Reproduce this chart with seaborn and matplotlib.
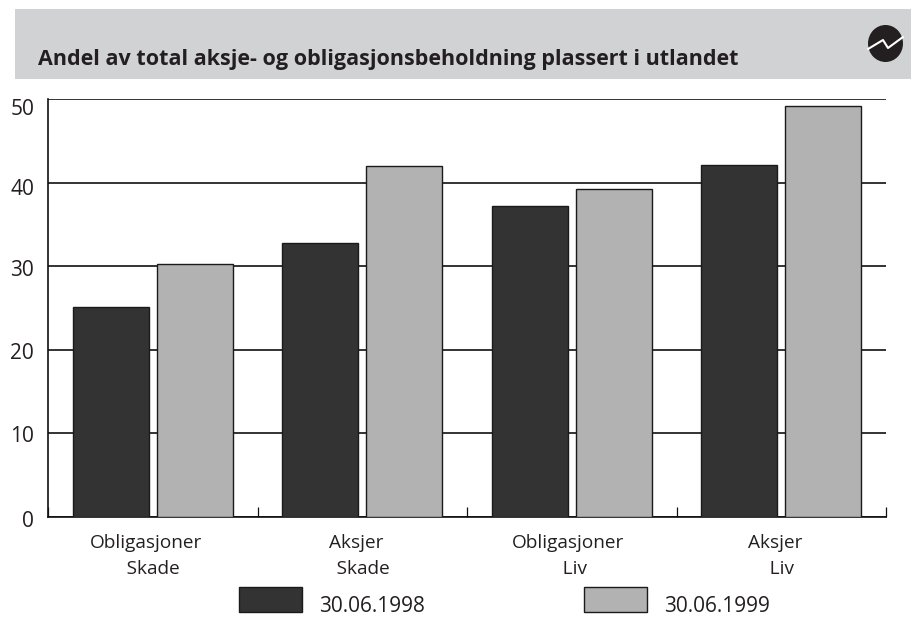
"""Andel av total aksje- og obligasjonsbeholdning plassert i utlandet."""

import matplotlib
matplotlib.use("Agg")
import matplotlib.pyplot as plt
import matplotlib.transforms as mtrans
from matplotlib.legend_handler import HandlerPatch
from matplotlib.patches import Ellipse, Rectangle
import pandas as pd
import seaborn as sns

CATEGORIES = ["Obligasjoner\n   Skade", "Aksjer\n   Skade", "Obligasjoner\n   Liv", "Aksjer\n   Liv"]
SERIES_NAMES = ["30.06.1998", "30.06.1999"]
VALUES_1998 = [25.1, 32.8, 37.2, 42.1]
VALUES_1999 = [30.3, 42.0, 39.2, 49.2]
Y_TICKS = [0, 10, 20, 30, 40, 50]
TITLE = "Andel av total aksje- og obligasjonsbeholdning plassert i utlandet"

COLORS = ["#333333", "#b2b2b2"]
BAND = "#d1d2d4"
W, H = 912, 622
X_SHIFT = [-6.5, -6, -4, -6.5]  # px, labels sit a bit off the group centres
Y_SHIFT = [-2, -1, -1, -2, -4, -8]


def swatch(legend, orig_handle, xdescent, ydescent, width, height, fontsize):
    # swatch stands on the text baseline, as in the original
    return Rectangle((-xdescent, 0), width, 18)


def main():
    sns.set_theme(style="white")
    plt.rcParams["font.family"] = ["Open Sans", "DejaVu Sans"]

    df = pd.DataFrame({
        "kategori": CATEGORIES * 2,
        "dato": [SERIES_NAMES[0]] * 4 + [SERIES_NAMES[1]] * 4,
        "andel": VALUES_1998 + VALUES_1999,
    })

    fig = plt.figure(figsize=(W / 100, H / 100), dpi=100, facecolor="white")

    # header band and logo, in pixel coordinates
    bg = fig.add_axes([0, 0, 1, 1], zorder=0)
    bg.set_xlim(0, W)
    bg.set_ylim(H, 0)
    bg.axis("off")
    bg.add_patch(Rectangle((15, 9), W - 15, 70, color=BAND, lw=0))
    bg.add_patch(Ellipse((885.5, 43.5), 35, 37, color="#231f20", lw=0))
    bg.plot([868, 883, 888, 903], [49, 40, 48, 37], color="white", lw=1.5)
    bg.text(38, 59, TITLE, fontsize=15.5, fontweight="bold", color="#231f20",
            va="center", ha="left")

    ax = fig.add_axes([48 / W, (H - 517) / H, 838 / W, 418 / H], zorder=1)
    ax.patch.set_alpha(0)
    sns.barplot(data=df, x="kategori", y="andel", hue="dato", palette=COLORS,
                saturation=1, width=0.8, gap=0.09, edgecolor="#1a1a1a",
                linewidth=1.0, ax=ax, zorder=3, legend=False)

    ax.set_xlim(-0.5, 3.5)
    ax.set_ylim(0, 50)
    ax.set_xlabel("")
    ax.set_ylabel("")
    ax.set_yticks(Y_TICKS)
    ax.grid(axis="y", color="#111111", lw=1.2, zorder=1)
    ax.set_axisbelow(True)
    for side in ["top", "right"]:
        ax.spines[side].set_visible(False)
    for side in ["left", "bottom"]:
        ax.spines[side].set_color("#111111")
        ax.spines[side].set_linewidth(1.2)

    ax.set_xticks([-0.5, 0.5, 1.5, 2.5, 3.5], minor=True)
    ax.tick_params(axis="x", which="minor", direction="in", length=7.5, width=0.9,
                   color="#111111", bottom=True)
    ax.tick_params(axis="x", which="major", length=0, pad=12, labelsize=13.7,
                   labelcolor="#231f20")
    ax.tick_params(axis="y", length=0, pad=10, labelsize=15, labelcolor="#231f20")

    for label, dx in zip(ax.get_xticklabels(), X_SHIFT):
        label.set_linespacing(1.6)
        label.set_transform(label.get_transform() + mtrans.ScaledTranslation(dx / 100, 0, fig.dpi_scale_trans))
    for label, dy in zip(ax.get_yticklabels(), Y_SHIFT):
        label.set_transform(label.get_transform() + mtrans.ScaledTranslation(0, dy / 100, fig.dpi_scale_trans))

    handles = [Rectangle((0, 0), 1, 1, fc=c, ec="#1a1a1a", lw=1.0) for c in COLORS]
    fig.legend(handles, SERIES_NAMES, loc="upper left", bbox_to_anchor=(239 / W, 1 - 594 / H),
               bbox_transform=fig.transFigure, ncol=2, frameon=False, fontsize=15,
               handlelength=3.03, handleheight=1.2, handletextpad=0.8, columnspacing=7.66,
               borderpad=0, borderaxespad=0, labelcolor="#231f20",
               handler_map={Rectangle: HandlerPatch(patch_func=swatch)})

    fig.savefig("out.png", dpi=100)
    plt.close(fig)


if __name__ == "__main__":
    main()
